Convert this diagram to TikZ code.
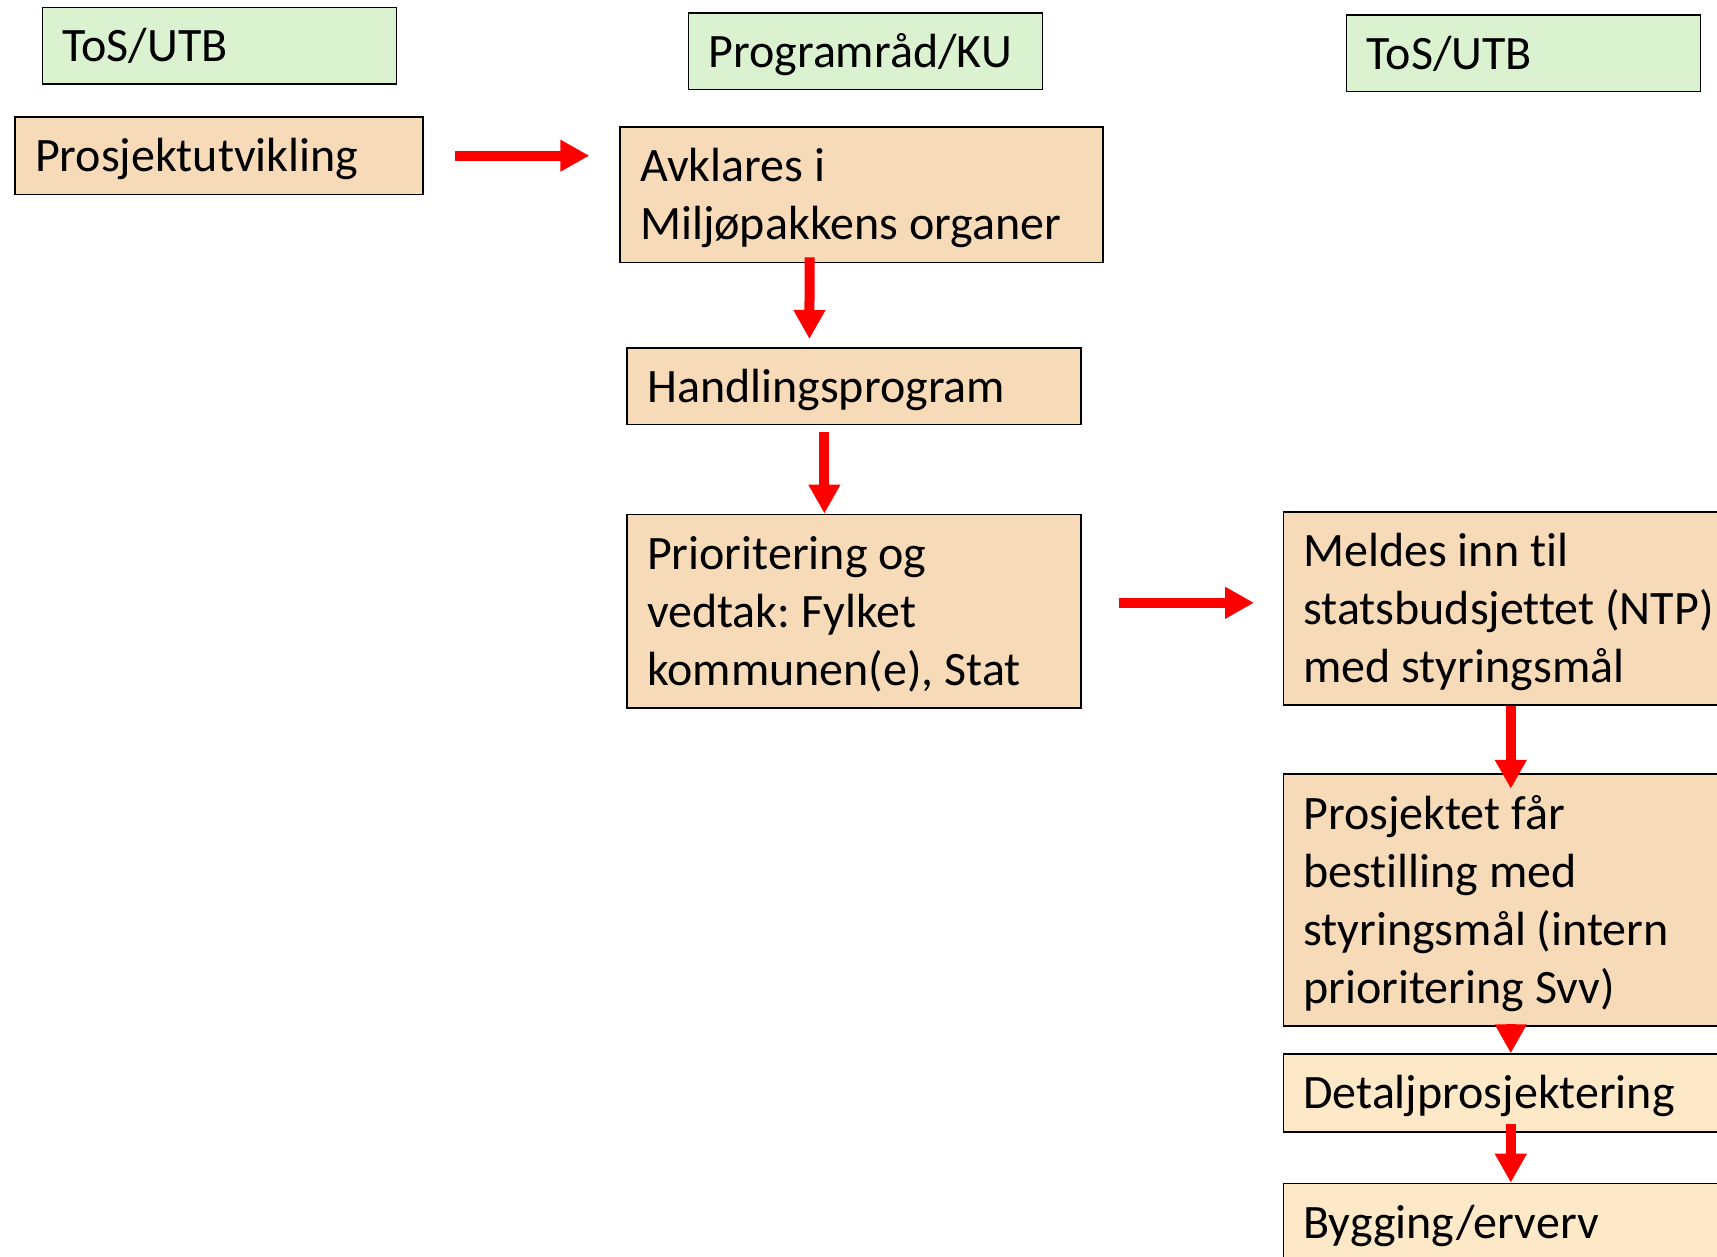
\documentclass[tikz,border=0pt]{standalone}
\usepackage{fontspec}
\setmainfont{Carlito}[Ligatures=NoCommon]
\usetikzlibrary{arrows.meta}
\definecolor{gronn}{RGB}{218,242,208}
\definecolor{fersken}{RGB}{247,218,184}
\definecolor{lysfersken}{RGB}{253,232,200}
\newcommand\linjestag{\rule[-10pt]{0pt}{52pt}}
\tikzset{
  boks/.style={draw=black, line width=1.6pt, anchor=north west, inner xsep=20pt,
    inner ysep=0pt, align=left, font=\fontsize{48}{58}\selectfont,
    execute at begin node={\spaceskip=0pt\xspaceskip=0pt\frenchspacing\linjestag},
    execute at end node=\linjestag},
  rolle/.style={boks, fill=gronn, text width=314pt, minimum height=76.6pt},
  trinn/.style={boks, fill=fersken},
  senere/.style={boks, fill=lysfersken},
  pil/.style={draw=red, line width=10pt, -{Triangle[width=30pt,length=29pt]}}
}
\begin{document}
\begin{tikzpicture}[x=1pt,y=-1pt]
  \useasboundingbox (0,0) rectangle (1717,1257);
  \clip (0,0) rectangle (1717,1257);
  % roller
  \node[rolle] (tos1) at (41.6,6.6) {ToS/UTB};
  \node[rolle] (prog) at (687.7,12) {Programråd/KU};
  \node[rolle] (tos2) at (1345.8,14.2) {ToS/UTB};
  % trinn
  \node[trinn, text width=368pt, minimum height=77.8pt] (prosj) at (14.2,116) {Prosjektutvikling};
  \node[trinn, text width=443pt, minimum height=135.7pt] (avkl) at (619.3,126)
    {Avklares i\\Miljøpakkens organer};
  \node[trinn, text width=414pt, minimum height=76.8pt] (handl) at (626.3,347) {Handlingsprogram};
  \node[trinn, text width=414pt, minimum height=193.8pt] (prior) at (626.3,513.6)
    {Prioritering og\\vedtak: Fylket\\kommunen(e), Stat};
  \node[trinn, text width=415pt, minimum height=192.7pt] (meldes) at (1282.5,511.4)
    {Meldes inn til\\statsbudsjettet (NTP)\\med styringsmål};
  \node[trinn, text width=415pt, minimum height=252pt] (bestill) at (1282.5,773.3)
    {Prosjektet får\\bestilling med\\styringsmål (intern\\prioritering Svv)};
  \node[senere, text width=415pt, minimum height=77.7pt] (detalj) at (1282.5,1053.3) {Detaljprosjektering};
  \node[senere, text width=415pt, minimum height=77.7pt] (bygg) at (1282.5,1182.7) {Bygging/erverv};
  % piler
  \draw[pil] ([xshift=31pt]prosj.east) -- ([xshift=-30pt]prosj.east -| avkl.west);
  \draw[pil] ([xshift=-52pt,yshift=6pt]avkl.south) -- ([xshift=-44.7pt,yshift=8pt]handl.north);
  \draw[pil] ([xshift=-29.7pt,yshift=-6.5pt]handl.south) -- ([xshift=-29.7pt]prior.north);
  \draw[pil] ([xshift=37.5pt,yshift=8.5pt]prior.east) -- ([xshift=-28.5pt,yshift=8.5pt]prior.east -| meldes.west);
  \draw[pil] (meldes.south) -- ([yshift=-15.5pt]bestill.north);
  \draw[pil] ([yshift=29.3pt]detalj.north) -- (detalj.north);
  \draw[pil] ([yshift=9pt]detalj.south) -- (bygg.north);
\end{tikzpicture}
\end{document}
